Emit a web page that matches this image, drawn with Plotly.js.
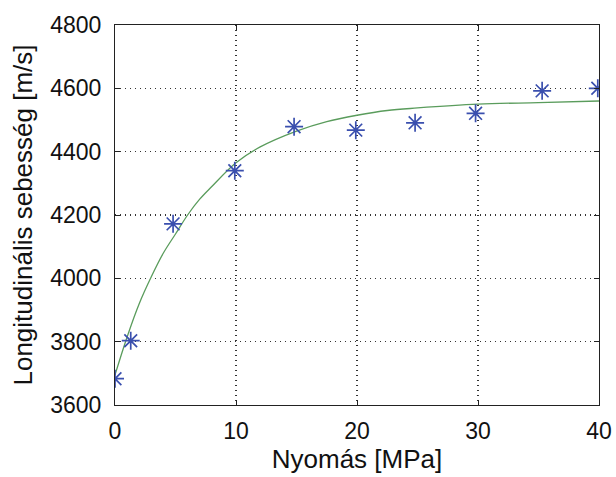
<!DOCTYPE html>
<html>
<head>
<meta charset="utf-8">
<script src="https://cdn.plot.ly/plotly-3.0.1.min.js"></script>
<style>html,body{margin:0;padding:0;background:#fff;}#chart{width:616px;height:477px;}</style>
</head>
<body>
<div id="chart"></div>
<script>
// Measured points
const pressure = [0, 1.3, 4.8, 9.9, 14.8, 19.9, 24.8, 29.8, 35.3, 39.9];
const velocity = [3683, 3803, 4172, 4340, 4479, 4468, 4491, 4521, 4592, 4600];
// Fitted curve
const fitX = [0, 1, 2, 3, 4, 5, 6, 7, 8, 10, 12, 15, 17.5, 20, 22.5, 25, 30, 35, 40];
const fitY = [3695, 3815, 3920, 4005, 4080, 4140, 4200, 4250, 4290, 4365, 4415, 4465, 4495, 4515, 4530, 4538, 4550, 4555, 4560];
const xTicks = [0, 10, 20, 30, 40];
const yTicks = [3600, 3800, 4000, 4200, 4400, 4600, 4800];

const FONT = 'Liberation Sans, Arial, sans-serif';
const traces = [
  {x: fitX, y: fitY, type: 'scatter', mode: 'lines',
   line: {color: '#5a9c5c', width: 1.3, shape: 'spline'}, hoverinfo: 'skip'},
  {x: pressure, y: velocity, type: 'scatter', mode: 'markers',
   marker: {symbol: 'asterisk-open', size: 15, line: {color: '#3a4fae', width: 1.7}, color: '#3a4fae'}}
];
const axisCommon = {
  showline: true, linecolor: '#222', linewidth: 1, mirror: 'ticks',
  ticks: 'inside', ticklen: 5, tickcolor: '#222',
  showgrid: true, gridcolor: '#333', griddash: '1px,4px', gridwidth: 1.2,
  zeroline: false, tickfont: {family: FONT, size: 23, color: '#111'}
};
const layout = {
  width: 616, height: 477,
  margin: {l: 115, r: 17, t: 25, b: 72},
  paper_bgcolor: '#fff', plot_bgcolor: '#fff',
  showlegend: false,
  xaxis: Object.assign({}, axisCommon, {
    range: [0, 40], tickvals: xTicks, ticktext: xTicks.map(String), ticklabelstandoff: 5,
    title: {text: 'Nyomás [MPa]', font: {family: FONT, size: 26, color: '#111'}, standoff: 4}
  }),
  yaxis: Object.assign({}, axisCommon, {
    range: [3600, 4800], tickvals: yTicks, ticktext: yTicks.map(String), ticklabelstandoff: 8,
    title: {text: 'Longitudinális sebesség [m/s]', font: {family: FONT, size: 26, color: '#111'}, standoff: 10}
  })
};
Plotly.newPlot('chart', traces, layout, {displayModeBar: false, staticPlot: true});
</script>
</body>
</html>
